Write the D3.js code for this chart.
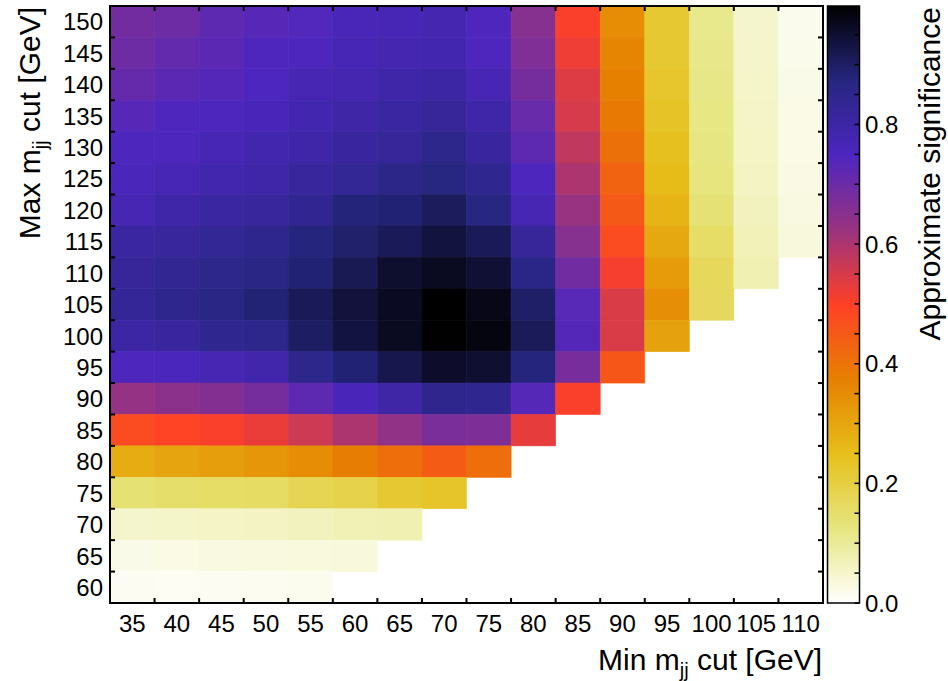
<!DOCTYPE html>
<html>
<head>
<meta charset="utf-8">
<script src="https://cdn.jsdelivr.net/npm/d3@7"></script>
<style>
  html, body { margin: 0; padding: 0; background: #fff; }
  svg { display: block; font-family: "Liberation Sans", Arial, sans-serif; }
</style>
</head>
<body>
<svg id="chart" width="948" height="681"></svg>
<script>
// Lower edge of the dijet mass window (columns)
const minCuts = [35, 40, 45, 50, 55, 60, 65, 70, 75, 80, 85, 90, 95, 100, 105, 110];
// Upper edge of the dijet mass window (rows, top to bottom)
const maxCuts = [150, 145, 140, 135, 130, 125, 120, 115, 110, 105, 100, 95, 90, 85, 80, 75, 70, 65, 60];
// Approximate significance for each (max, min) window; one row per entry of maxCuts
const significance = [
  [0.688, 0.696, 0.720, 0.732, 0.741, 0.762, 0.768, 0.776, 0.745, 0.655, 0.505, 0.351, 0.220, 0.113, 0.049, 0.018],
  [0.696, 0.712, 0.725, 0.745, 0.750, 0.768, 0.776, 0.780, 0.750, 0.666, 0.520, 0.365, 0.220, 0.115, 0.050, 0.020],
  [0.709, 0.725, 0.735, 0.748, 0.772, 0.776, 0.792, 0.802, 0.768, 0.683, 0.540, 0.375, 0.228, 0.118, 0.052, 0.023],
  [0.732, 0.747, 0.750, 0.760, 0.780, 0.796, 0.808, 0.821, 0.792, 0.704, 0.550, 0.386, 0.234, 0.121, 0.054, 0.025],
  [0.752, 0.750, 0.768, 0.782, 0.792, 0.811, 0.821, 0.851, 0.811, 0.720, 0.576, 0.406, 0.245, 0.123, 0.056, 0.025],
  [0.756, 0.768, 0.782, 0.792, 0.815, 0.831, 0.855, 0.871, 0.841, 0.750, 0.600, 0.430, 0.256, 0.127, 0.059, 0.027],
  [0.772, 0.792, 0.808, 0.815, 0.839, 0.879, 0.885, 0.907, 0.871, 0.772, 0.625, 0.450, 0.272, 0.140, 0.064, 0.029],
  [0.808, 0.815, 0.831, 0.847, 0.875, 0.894, 0.912, 0.936, 0.912, 0.821, 0.655, 0.478, 0.296, 0.155, 0.070, 0.033],
  [0.821, 0.835, 0.851, 0.863, 0.885, 0.917, 0.953, 0.966, 0.946, 0.860, 0.690, 0.510, 0.320, 0.170, 0.075, null],
  [0.827, 0.847, 0.863, 0.883, 0.912, 0.940, 0.965, 0.998, 0.975, 0.897, 0.730, 0.545, 0.345, 0.168, null, null],
  [0.802, 0.811, 0.841, 0.851, 0.902, 0.934, 0.966, 0.996, 0.982, 0.910, 0.736, 0.545, 0.307, null, null, null],
  [0.750, 0.755, 0.772, 0.786, 0.851, 0.885, 0.922, 0.956, 0.950, 0.875, 0.680, 0.455, null, null, null, null],
  [0.630, 0.646, 0.660, 0.683, 0.720, 0.760, 0.796, 0.847, 0.841, 0.733, 0.505, null, null, null, null, null],
  [0.478, 0.492, 0.505, 0.525, 0.561, 0.600, 0.635, 0.676, 0.670, 0.530, null, null, null, null, null, null],
  [0.288, 0.303, 0.315, 0.330, 0.350, 0.380, 0.410, 0.445, 0.410, null, null, null, null, null, null, null],
  [0.141, 0.150, 0.155, 0.160, 0.180, 0.190, 0.220, 0.230, null, null, null, null, null, null, null, null],
  [0.049, 0.052, 0.056, 0.059, 0.064, 0.072, 0.075, null, null, null, null, null, null, null, null, null],
  [0.023, 0.026, 0.028, 0.030, 0.032, 0.034, null, null, null, null, null, null, null, null, null, null],
  [0.013, 0.012, 0.013, 0.015, 0.017, null, null, null, null, null, null, null, null, null, null, null]
];
// Colour bar ticks
const cbarTicks = [0, 0.05, 0.1, 0.15, 0.2, 0.25, 0.3, 0.35, 0.4, 0.45, 0.5, 0.55, 0.6, 0.65, 0.7, 0.75, 0.8, 0.85, 0.9, 0.95];
const cbarLabels = [0, 0.2, 0.4, 0.6, 0.8];

// Reversed CMRmap palette: white -> yellow -> orange -> red -> purple -> blue -> black
const paletteStops = [0, 0.125, 0.25, 0.375, 0.5, 0.625, 0.75, 0.875, 1];
const paletteColors = ["#ffffff", "#e6e680", "#e6bf1a", "#e68000", "#ff4026", "#993380", "#4d26bf", "#262680", "#000000"];

const svg = d3.select("#chart");
const plot = { left: 110, right: 823, top: 6, bottom: 603 };
const cbar = { left: 827.5, right: 859.5, top: 6, bottom: 603 };
const fontSize = 24;
const titleSize = 30;
const tickLen = 5;

const x = d3.scaleBand().domain(minCuts).range([plot.left, plot.right]).padding(0);
const y = d3.scaleBand().domain(maxCuts).range([plot.top, plot.bottom]).padding(0);

const cells = [];
maxCuts.forEach((mx, i) => minCuts.forEach((mn, j) => {
  const v = significance[i][j];
  if (v !== null) cells.push({ mn, mx, v });
}));
const vmax = d3.max(cells, d => d.v);

const norm = d3.scaleLinear().domain([0, vmax]).range([0, 1]).clamp(true);
const palette = d3.scaleLinear().domain(paletteStops).range(paletteColors).interpolate(d3.interpolateRgb);
const colour = v => palette(norm(v));

// Heatmap cells
svg.append("g").selectAll("rect").data(cells).join("rect")
  .attr("x", d => x(d.mn))
  .attr("y", d => y(d.mx))
  .attr("width", x.bandwidth())
  .attr("height", y.bandwidth())
  .attr("fill", d => colour(d.v))
  .attr("stroke", d => colour(d.v))
  .attr("stroke-width", 0.6);

// Axis ticks at the cell edges, pointing inward on every side
const xEdges = minCuts.slice(1).map(c => x(c));
const yEdges = maxCuts.slice(1).map(c => y(c));
const ticks = svg.append("g").attr("stroke", "#000").attr("stroke-width", 2);
ticks.selectAll(".tb").data(xEdges).join("line").attr("class", "tb")
  .attr("x1", d => d).attr("x2", d => d).attr("y1", plot.bottom).attr("y2", plot.bottom - tickLen);
ticks.selectAll(".tt").data(xEdges).join("line").attr("class", "tt")
  .attr("x1", d => d).attr("x2", d => d).attr("y1", plot.top).attr("y2", plot.top + tickLen);
ticks.selectAll(".tl").data(yEdges).join("line").attr("class", "tl")
  .attr("y1", d => d).attr("y2", d => d).attr("x1", plot.left).attr("x2", plot.left + tickLen);
ticks.selectAll(".tr").data(yEdges).join("line").attr("class", "tr")
  .attr("y1", d => d).attr("y2", d => d).attr("x1", plot.right).attr("x2", plot.right - tickLen);

// Frame
svg.append("rect")
  .attr("x", plot.left).attr("y", plot.top)
  .attr("width", plot.right - plot.left).attr("height", plot.bottom - plot.top)
  .attr("fill", "none").attr("stroke", "#000").attr("stroke-width", 2);

// Tick labels at the cell centres
svg.append("g").selectAll("text").data(minCuts).join("text")
  .attr("x", d => x(d) + x.bandwidth() / 2)
  .attr("y", 632)
  .attr("text-anchor", "middle")
  .attr("font-size", fontSize)
  .text(d => d);
svg.append("g").selectAll("text").data(maxCuts).join("text")
  .attr("x", 103)
  .attr("y", d => y(d) + y.bandwidth() / 2)
  .attr("dy", "0.36em")
  .attr("text-anchor", "end")
  .attr("font-size", fontSize)
  .text(d => d);

// Axis titles
const xTitle = svg.append("text")
  .attr("x", plot.right - 1).attr("y", 670)
  .attr("text-anchor", "end").attr("font-size", titleSize);
xTitle.append("tspan").text("Min m");
xTitle.append("tspan").attr("font-size", 20).attr("dy", 7).text("jj");
xTitle.append("tspan").attr("dy", -7).text(" cut [GeV]");

const yTitle = svg.append("text")
  .attr("transform", `translate(40,${plot.top + 1}) rotate(-90)`)
  .attr("text-anchor", "end").attr("font-size", titleSize);
yTitle.append("tspan").text("Max m");
yTitle.append("tspan").attr("font-size", 20).attr("dy", 7).text("jj");
yTitle.append("tspan").attr("dy", -7).text(" cut [GeV]");

// Colour bar
const cy = d3.scaleLinear().domain([0, vmax]).range([cbar.bottom, cbar.top]);
const grad = svg.append("defs").append("linearGradient")
  .attr("id", "cbarGrad").attr("x1", 0).attr("y1", 1).attr("x2", 0).attr("y2", 0);
grad.selectAll("stop").data(d3.range(0, 1.0001, 1 / 64)).join("stop")
  .attr("offset", d => d)
  .attr("stop-color", d => palette(d));
svg.append("rect")
  .attr("x", cbar.left).attr("y", cbar.top)
  .attr("width", cbar.right - cbar.left).attr("height", cbar.bottom - cbar.top)
  .attr("fill", "url(#cbarGrad)");
svg.append("g").attr("stroke", "#000").attr("stroke-width", 1.5)
  .selectAll("line").data(cbarTicks).join("line")
  .attr("x1", cbar.right).attr("x2", cbar.right - tickLen)
  .attr("y1", d => cy(d)).attr("y2", d => cy(d));
svg.append("rect")
  .attr("x", cbar.left).attr("y", cbar.top)
  .attr("width", cbar.right - cbar.left).attr("height", cbar.bottom - cbar.top)
  .attr("fill", "none").attr("stroke", "#000").attr("stroke-width", 1.5);
svg.append("g").selectAll("text").data(cbarLabels).join("text")
  .attr("x", 865)
  .attr("y", d => cy(d))
  .attr("dy", "0.36em")
  .attr("font-size", fontSize)
  .text(d3.format(".1f"));
svg.append("text")
  .attr("transform", `translate(940,${cbar.top + 1}) rotate(-90)`)
  .attr("text-anchor", "end").attr("font-size", titleSize)
  .text("Approximate significance");
</script>
</body>
</html>
